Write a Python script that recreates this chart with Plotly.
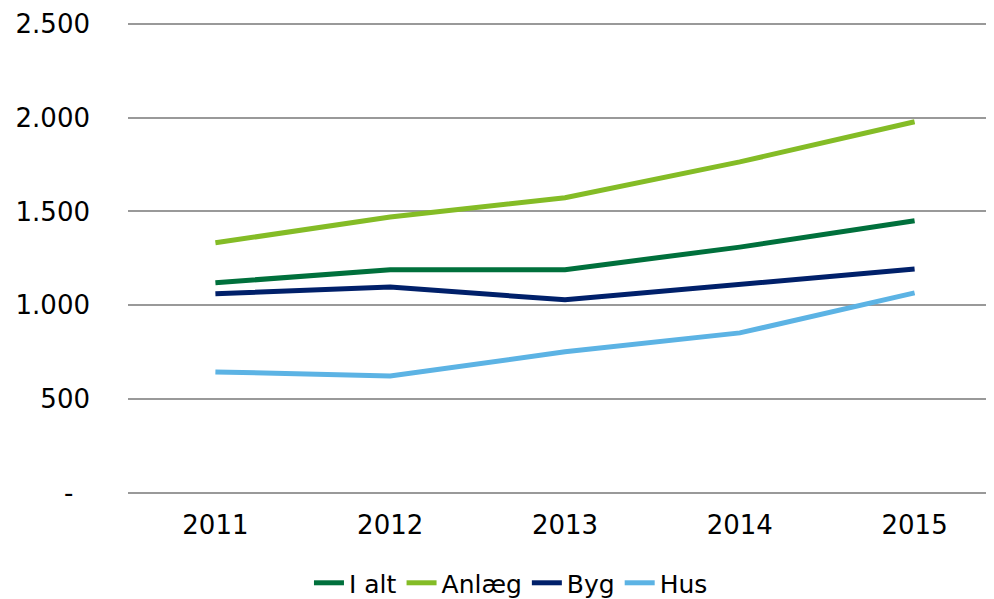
import plotly.graph_objects as go

# Data
years = ["2011", "2012", "2013", "2014", "2015"]
i_alt = [1120, 1190, 1190, 1310, 1450]
anlaeg = [1333, 1470, 1573, 1764, 1978]
byg = [1061, 1098, 1029, 1114, 1194]
hus = [645, 624, 752, 853, 1066]

y_ticks = [0, 500, 1000, 1500, 2000, 2500]
y_labels = ["-\u00a0\u00a0", "500", "1.000", "1.500", "2.000", "2.500"]

series = [
    ("I alt", i_alt, "#00703c"),
    ("Anlæg", anlaeg, "#84bc26"),
    ("Byg", byg, "#00206a"),
    ("Hus", hus, "#5cb3e4"),
]

fig = go.Figure()
for name, vals, col in series:
    fig.add_trace(go.Scatter(x=years, y=vals, name=name, mode="lines",
                             line=dict(color=col, width=5)))

# page body shifts everything ~8px, margins make up for it
fig.update_layout(
    width=994, height=599,
    margin=dict(l=120, r=0, t=12, b=114),
    plot_bgcolor="white", paper_bgcolor="white",
    font=dict(family="Verdana, DejaVu Sans, sans-serif", size=26, color="black"),
    showlegend=True,
    legend=dict(orientation="h", xref="container", yref="container",
                x=0.506, xanchor="center", y=0.040, yanchor="middle",
                font=dict(size=25), itemwidth=30, tracegroupgap=0),
)
fig.update_xaxes(type="category", range=[-0.5, 4.5], showgrid=False, showline=False,
                 ticks="", ticklabelstandoff=14, automargin=False)
fig.update_yaxes(range=[0, 2520], tickvals=y_ticks, ticktext=y_labels,
                 showgrid=True, gridcolor="#999999", gridwidth=2,
                 zeroline=True, zerolinecolor="#999999", zerolinewidth=2,
                 ticks="", ticklabelstandoff=37, automargin=False)

fig.write_html("out.html")
